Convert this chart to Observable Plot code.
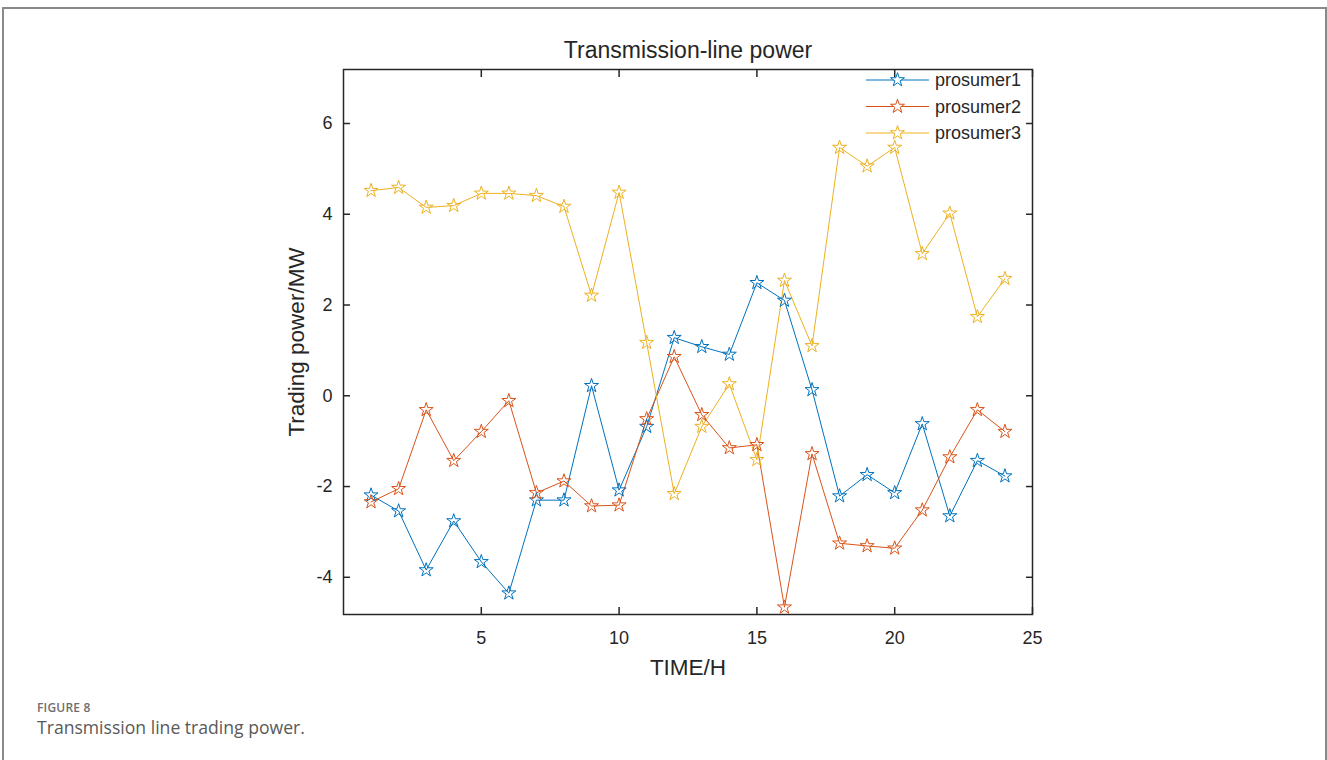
<!DOCTYPE html>
<html>
<head>
<meta charset="utf-8">
<script src="https://cdn.jsdelivr.net/npm/d3@7"></script>
<script src="https://cdn.jsdelivr.net/npm/@observablehq/plot@0.6"></script>
<style>
  body { margin: 0; background: #fff; }
  #page { position: relative; width: 1327px; height: 760px; overflow: hidden; background: #fff; }
  #frame { position: absolute; left: 2px; top: 7px; width: 1325px; height: 770px; border: 2px solid #8a8a8a; box-sizing: border-box; }
  #chart { position: absolute; left: 0; top: 0; }
  #legend { position: absolute; left: 0; top: 0; }
  #fig { position: absolute; left: 37px; top: 699px; font-family: "Open Sans", "Noto Sans", sans-serif; font-weight: 600; font-size: 12px; color: #6e6e6e; letter-spacing: 0.2px; }
  #cap { position: absolute; left: 37px; top: 715px; font-family: "Open Sans", "Noto Sans", sans-serif; font-size: 17.6px; color: #595959; }
</style>
</head>
<body>
<div id="page">
  <div id="frame"></div>
  <div id="chart"></div>
  <svg id="legend" width="1327" height="200"></svg>
  <div id="fig"></div>
  <div id="cap"></div>
</div>
<script>
// ---- data ----
const hours = [1,2,3,4,5,6,7,8,9,10,11,12,13,14,15,16,17,18,19,20,21,22,23,24];
const seriesNames = ["prosumer1", "prosumer2", "prosumer3"];
const seriesColors = ["#0072BD", "#D95319", "#EDB120"];
const prosumer1 = [-2.19,-2.54,-3.84,-2.76,-3.66,-4.35,-2.30,-2.30,0.22,-2.08,-0.68,1.28,1.08,0.91,2.49,2.10,0.13,-2.21,-1.74,-2.14,-0.62,-2.65,-1.43,-1.77];
const prosumer2 = [-2.34,-2.05,-0.31,-1.43,-0.79,-0.11,-2.14,-1.88,-2.43,-2.41,-0.51,0.86,-0.42,-1.15,-1.08,-4.66,-1.28,-3.25,-3.31,-3.36,-2.52,-1.35,-0.31,-0.79];
const prosumer3 = [4.52,4.59,4.15,4.19,4.46,4.46,4.41,4.17,2.21,4.48,1.17,-2.16,-0.68,0.26,-1.41,2.54,1.10,5.47,5.06,5.47,3.13,4.02,1.74,2.58];
const xTicks = [5,10,15,20,25];
const yTicks = [-4,-2,0,2,4,6];
const titleText = "Transmission-line power";
const xLabel = "TIME/H";
const yLabel = "Trading power/MW";
const figLabel = "FIGURE 8";
const captionText = "Transmission line trading power.";

const seriesValues = [prosumer1, prosumer2, prosumer3];
const rows = [];
seriesNames.forEach((s, k) => hours.forEach((h, i) => rows.push({series: s, hour: h, value: seriesValues[k][i]})));

const font = "'Liberation Sans', Arial, Helvetica, sans-serif";
const ink = "#262626";

const chart = Plot.plot({
  width: 1327,
  height: 690,
  marginLeft: 343,
  marginRight: 295,
  marginTop: 69,
  marginBottom: 76,
  style: {fontFamily: font, fontSize: "18px", color: ink, background: "transparent", overflow: "visible"},
  x: {domain: [0, 25]},
  y: {domain: [-4.82, 7.19]},
  color: {domain: seriesNames, range: seriesColors},
  marks: [
    Plot.line(rows, {x: "hour", y: "value", z: "series", stroke: "series", strokeWidth: 1}),
    Plot.dot(rows, {x: "hour", y: "value", stroke: "series", symbol: "star", r: 4.4, fill: "none", strokeWidth: 1}),
    Plot.frame({stroke: ink, strokeWidth: 1.5}),
    Plot.axisX({anchor: "bottom", ticks: xTicks, tickSize: -7, tickPadding: 24, tickFormat: d => String(d), label: null, stroke: ink, strokeWidth: 1.5, fontSize: 18}),
    Plot.axisX({anchor: "top", ticks: xTicks, tickSize: -7, tickPadding: 0, tickFormat: () => "", label: null, stroke: ink, strokeWidth: 1.5}),
    Plot.axisY({anchor: "left", ticks: yTicks, tickSize: -7, tickPadding: 18, tickFormat: d => String(d), label: null, stroke: ink, strokeWidth: 1.5, fontSize: 18}),
    Plot.axisY({anchor: "right", ticks: yTicks, tickSize: -7, tickPadding: 0, tickFormat: () => "", label: null, stroke: ink, strokeWidth: 1.5}),
    Plot.text([titleText], {frameAnchor: "top", lineAnchor: "middle", dy: -19, fontSize: 23, fill: ink}),
    Plot.text([xLabel], {frameAnchor: "bottom", lineAnchor: "middle", dy: 53, fontSize: 22.5, fill: ink}),
    Plot.text([yLabel], {frameAnchor: "left", textAnchor: "middle", lineAnchor: "middle", dx: -47, rotate: -90, fontSize: 22.5, fill: ink})
  ]
});
document.getElementById("chart").appendChild(chart);

// ---- legend (inside the axes, top right, no box) ----
const leg = d3.select("#legend");
const star = d3.symbol(d3.symbolStar, Math.PI * 4.4 * 4.4)();
seriesNames.forEach((name, i) => {
  const g = leg.append("g").attr("transform", `translate(0,${80 + i * 26.5})`);
  g.append("line").attr("x1", 866).attr("x2", 929).attr("y1", 0).attr("y2", 0)
    .attr("stroke", seriesColors[i]).attr("stroke-width", 1);
  g.append("path").attr("d", star).attr("transform", "translate(897.5,0)")
    .attr("fill", "white").attr("stroke", seriesColors[i]).attr("stroke-width", 1);
  g.append("text").attr("x", 935).attr("y", 0).attr("dy", "0.35em")
    .attr("font-family", font).attr("font-size", 18).attr("fill", ink).text(name);
});

document.getElementById("fig").textContent = figLabel;
document.getElementById("cap").textContent = captionText;
</script>
</body>
</html>
